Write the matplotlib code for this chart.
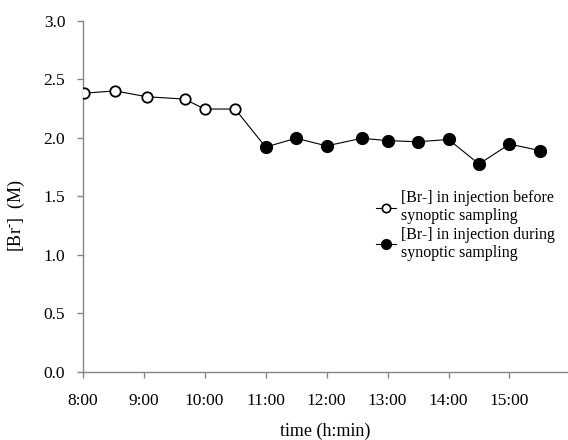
import matplotlib
matplotlib.use("Agg")
import matplotlib.pyplot as plt
from matplotlib.lines import Line2D

# time in decimal hours, [Br-] in M
t_before = [8.02, 8.53, 9.05, 9.67, 10.0, 10.5]
br_before = [2.38, 2.40, 2.35, 2.33, 2.245, 2.245]
t_during = [11.0, 11.5, 12.0, 12.58, 13.0, 13.5, 14.0, 14.5, 15.0, 15.5]
br_during = [1.92, 1.995, 1.93, 1.995, 1.975, 1.965, 1.985, 1.775, 1.945, 1.89]
xticks = [8, 9, 10, 11, 12, 13, 14, 15]
xticklabels = ["8:00", "9:00", "10:00", "11:00", "12:00", "13:00", "14:00", "15:00"]

plt.rcParams['font.family'] = ['Liberation Serif', 'DejaVu Serif']
plt.rcParams['mathtext.fontset'] = 'custom'
plt.rcParams['mathtext.rm'] = 'Liberation Serif'

fig = plt.figure(figsize=(5.68, 4.40), dpi=100)
ax = fig.add_axes([0.1456, 0.1552, 0.8544, 0.7978])

# one continuous connecting line, markers drawn on top
ax.plot(t_before + t_during, br_before + br_during, color='black', lw=0.8, zorder=2)
ax.plot(t_before, br_before, ls='none', marker='o', ms=7.5, mfc='white',
        mec='black', mew=1.3, zorder=3)
ax.plot(t_during, br_during, ls='none', marker='o', ms=8.5, mfc='black',
        mec='black', zorder=3)

ax.set_xlim(8, 15.96)
ax.set_ylim(0, 3.0)
ax.set_xticks(xticks)
ax.set_xticklabels(xticklabels)
ax.set_yticks([0, 0.5, 1.0, 1.5, 2.0, 2.5, 3.0])
ax.set_yticklabels(["0.0", "0.5", "1.0", "1.5", "2.0", "2.5", "3.0"])

for s in ['top', 'right']:
    ax.spines[s].set_visible(False)
for s in ['left', 'bottom']:
    ax.spines[s].set_color('#868686')
    ax.spines[s].set_linewidth(1.0)
ax.tick_params(axis='both', colors='#868686', labelcolor='black', labelsize=12.5,
               length=4.5, width=1.0, direction='out')
ax.tick_params(axis='y', pad=8)
ax.tick_params(axis='x', pad=11)

ax.set_xlabel('time (h:min)', fontsize=13, labelpad=10)
ax.set_ylabel(r'[Br$^{\text{-}}$]  (M)', fontsize=13)
ax.yaxis.set_label_coords(-0.115, 0.445)

handles = [
    Line2D([], [], color='black', lw=0.8, marker='o', ms=6, mfc='white', mec='black', mew=1.2),
    Line2D([], [], color='black', lw=0.8, marker='o', ms=7, mfc='black', mec='black'),
]
labels = ["[Br-] in injection before\nsynoptic sampling",
          "[Br-] in injection during\nsynoptic sampling"]
ax.legend(handles, labels, loc='upper left', bbox_to_anchor=(376 / 568, 1 - 190 / 440),
          bbox_transform=fig.transFigure, frameon=False, fontsize=11.5,
          handlelength=1.25, handletextpad=0.3, labelspacing=0.15,
          borderaxespad=0, borderpad=0)

plt.savefig('out.png', dpi=100)
